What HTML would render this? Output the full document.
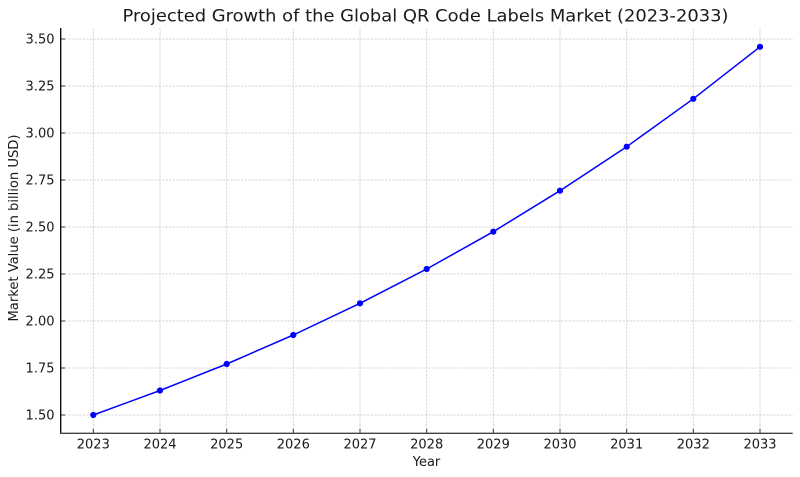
<!DOCTYPE html>
<html><head><meta charset="utf-8"><style>
html,body{margin:0;padding:0;background:#fff;}
svg{display:block;}
text{font-family:"DejaVu Sans","Liberation Sans",sans-serif;fill:#1a1a1a;}
</style></head><body>
<svg width="800" height="477" viewBox="0 0 800 477" xmlns="http://www.w3.org/2000/svg">
<rect width="800" height="477" fill="#fff"/>
<g stroke="#c9c9c9" stroke-width="0.8" stroke-dasharray="2.4,1.2">
<line x1="93.3" y1="28" x2="93.3" y2="433"/>
<line x1="160" y1="28" x2="160" y2="433"/>
<line x1="226.7" y1="28" x2="226.7" y2="433"/>
<line x1="293.3" y1="28" x2="293.3" y2="433"/>
<line x1="360" y1="28" x2="360" y2="433"/>
<line x1="426.7" y1="28" x2="426.7" y2="433"/>
<line x1="493.3" y1="28" x2="493.3" y2="433"/>
<line x1="560" y1="28" x2="560" y2="433"/>
<line x1="626.7" y1="28" x2="626.7" y2="433"/>
<line x1="693.3" y1="28" x2="693.3" y2="433"/>
<line x1="760" y1="28" x2="760" y2="433"/>
<line x1="61" y1="415" x2="792.7" y2="415"/>
<line x1="61" y1="368" x2="792.7" y2="368"/>
<line x1="61" y1="321" x2="792.7" y2="321"/>
<line x1="61" y1="274" x2="792.7" y2="274"/>
<line x1="61" y1="227" x2="792.7" y2="227"/>
<line x1="61" y1="180" x2="792.7" y2="180"/>
<line x1="61" y1="133" x2="792.7" y2="133"/>
<line x1="61" y1="86" x2="792.7" y2="86"/>
<line x1="61" y1="39" x2="792.7" y2="39"/>
</g>
<!-- ticks -->
<g stroke="#333" stroke-width="1">
<line x1="93.3" y1="433" x2="93.3" y2="429"/>
<line x1="160" y1="433" x2="160" y2="429"/>
<line x1="226.7" y1="433" x2="226.7" y2="429"/>
<line x1="293.3" y1="433" x2="293.3" y2="429"/>
<line x1="360" y1="433" x2="360" y2="429"/>
<line x1="426.7" y1="433" x2="426.7" y2="429"/>
<line x1="493.3" y1="433" x2="493.3" y2="429"/>
<line x1="560" y1="433" x2="560" y2="429"/>
<line x1="626.7" y1="433" x2="626.7" y2="429"/>
<line x1="693.3" y1="433" x2="693.3" y2="429"/>
<line x1="760" y1="433" x2="760" y2="429"/>
<line x1="61" y1="415" x2="65" y2="415"/>
<line x1="61" y1="368" x2="65" y2="368"/>
<line x1="61" y1="321" x2="65" y2="321"/>
<line x1="61" y1="274" x2="65" y2="274"/>
<line x1="61" y1="227" x2="65" y2="227"/>
<line x1="61" y1="180" x2="65" y2="180"/>
<line x1="61" y1="133" x2="65" y2="133"/>
<line x1="61" y1="86" x2="65" y2="86"/>
<line x1="61" y1="39" x2="65" y2="39"/>
</g>
<!-- spines -->
<line x1="60.7" y1="28" x2="60.7" y2="434" stroke="#000" stroke-width="1.3"/>
<line x1="60" y1="433.3" x2="792.7" y2="433.3" stroke="#444" stroke-width="1.3"/>
<!-- series -->
<polyline fill="none" stroke="#0000ff" stroke-width="1.5" stroke-linejoin="round"
points="93.3,415 160,390.5 226.7,364 293.3,335 360,303.3 426.7,269 493.3,231.7 560,190.7 626.7,146.7 693.3,98.8 760,46.8"/>
<g fill="#0000ff">
<circle cx="93.3" cy="415" r="3.1"/>
<circle cx="160" cy="390.5" r="3.1"/>
<circle cx="226.7" cy="364" r="3.1"/>
<circle cx="293.3" cy="335" r="3.1"/>
<circle cx="360" cy="303.3" r="3.1"/>
<circle cx="426.7" cy="269" r="3.1"/>
<circle cx="493.3" cy="231.7" r="3.1"/>
<circle cx="560" cy="190.7" r="3.1"/>
<circle cx="626.7" cy="146.7" r="3.1"/>
<circle cx="693.3" cy="98.8" r="3.1"/>
<circle cx="760" cy="46.8" r="3.1"/>
</g>
<!-- x tick labels -->
<g font-size="13" text-anchor="middle">
<text x="93.3" y="448.3">2023</text>
<text x="160" y="448.3">2024</text>
<text x="226.7" y="448.3">2025</text>
<text x="293.3" y="448.3">2026</text>
<text x="360" y="448.3">2027</text>
<text x="426.7" y="448.3">2028</text>
<text x="493.3" y="448.3">2029</text>
<text x="560" y="448.3">2030</text>
<text x="626.7" y="448.3">2031</text>
<text x="693.3" y="448.3">2032</text>
<text x="760" y="448.3">2033</text>
</g>
<!-- y tick labels -->
<g font-size="13" text-anchor="end">
<text x="54.5" y="419.7">1.50</text>
<text x="54.5" y="372.7">1.75</text>
<text x="54.5" y="325.7">2.00</text>
<text x="54.5" y="278.7">2.25</text>
<text x="54.5" y="231.7">2.50</text>
<text x="54.5" y="184.7">2.75</text>
<text x="54.5" y="137.7">3.00</text>
<text x="54.5" y="90.7">3.25</text>
<text x="54.5" y="43.7">3.50</text>
</g>
<text x="426.5" y="466" font-size="13" text-anchor="middle">Year</text>
<text transform="translate(18,228) rotate(-90)" font-size="13" text-anchor="middle" textLength="187" lengthAdjust="spacingAndGlyphs">Market Value (in billion USD)</text>
<text x="425.5" y="21.7" font-size="17" text-anchor="middle" textLength="606" lengthAdjust="spacingAndGlyphs">Projected Growth of the Global QR Code Labels Market (2023-2033)</text>
</svg>
</body></html>
